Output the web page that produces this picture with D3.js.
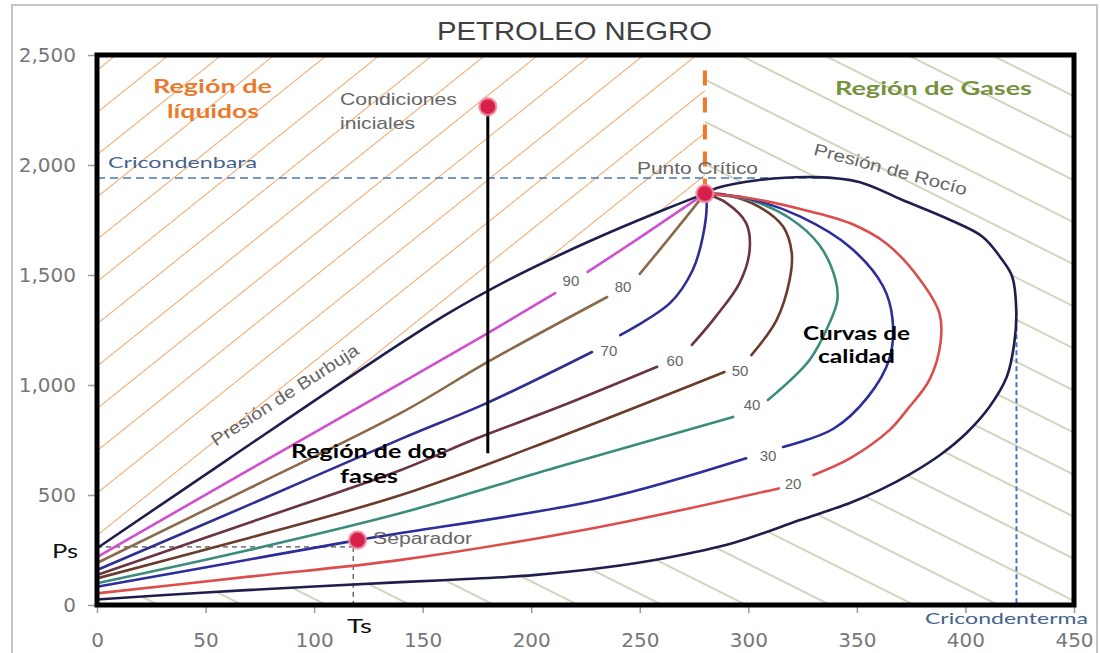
<!DOCTYPE html>
<html><head><meta charset="utf-8">
<script src="https://cdn.jsdelivr.net/npm/d3@7"></script>
<style>body{margin:0;background:#fff;} svg{display:block}</style>
</head><body>
<svg id="c" width="1100" height="653"></svg>
<script>
// ---------------- DATA ----------------
const xTicks = [0, 50, 100, 150, 200, 250, 300, 350, 400, 450];
const yTicks = [0, 500, 1000, 1500, 2000, 2500];
const yTickLabels = ["0", "500", "1,000", "1,500", "2,000", "2,500"];

// Presión de Burbuja (T, P)
const bubbleCurve = [[0,258],[60,660],[120,1060],[160,1315],[190,1480],[215,1600],[240,1710],[262,1800],[280,1870]];
// Presión de Rocío (from critical point around the envelope to T=0)
const dewCurve = [[280,1870],[285.5,1895],[305,1932],[331,1945],[351,1923],[371,1841],[393,1750],[408,1673],[417,1568],[421.6,1491],[423.4,1341],[422.5,1191],[419,1036],[411,900],[400.5,782],[388.3,682],[374.5,595],[360.7,523],[346.8,464],[323.8,386],[293,282],[262,214],[232,168],[201,136],[170,118],[140,104],[100,84],[50,57],[0,25]];

// quality curves (null = gap for label)
const q90 = [[0,218],[70,614],[140,1009],[180,1236],[211,1418], null, [226,1514],[250,1670],[268,1790],[280,1870]];
const q80 = [[0,191],[70,530],[140,873],[180,1105],[235,1400], null, [250,1505],[264,1673],[280,1870]];
const q70 = [[0,159],[70,455],[140,755],[180,920],[228,1150], null, [241,1227],[264,1373],[274.4,1523],[279,1673],[280.8,1827],[280,1870]];
const q60 = [[0,136],[70,374],[140,614],[175,758],[213,901],[258,1083], null, [274,1182],[285,1311],[296,1464],[300.6,1614],[299,1736],[290,1827],[280,1870]];
const q50 = [[0,121],[70,305],[140,500],[213,764],[289,1059], null, [301.4,1136],[313,1295],[319,1477],[320,1600],[316,1720],[305,1810],[290,1864],[280,1870]];
const q40 = [[0,99],[70,250],[140,418],[213,629],[293,855], null, [309,932],[328.2,1114],[337.4,1282],[341,1386],[340.2,1477],[332.7,1636],[319,1759],[300.7,1841],[280,1870]];
const q30 = [[0,83],[60,189],[120,295],[140,327],[232,480],[299,667], null, [316,718],[339,800],[355,945],[365,1120],[366.4,1300],[362,1450],[347,1625],[324,1765],[300,1848],[280,1870]];
const q20 = [[0,53],[70,129],[140,205],[232,356],[314,530], null, [330,591],[347,668],[365,795],[373,886],[383.4,1023],[388.5,1190],[388,1327],[379,1480],[364,1640],[347,1735],[324,1800],[300,1850],[280,1870]];
const qualityCurves = [q90, q80, q70, q60, q50, q40, q30, q20];
const qualityLevels = ["90", "80", "70", "60", "50", "40", "30", "20"];
const qualityLabelPos = [[218.3,1468],[242.3,1441],[235.8,1150],[266.2,1105],[296.2,1059],[301.7,905],[309.1,673],[320.6,545]];

const criticalPoint = [280, 1870];
const initialPoint = [180, 2265];
const separatorPoint = [120, 295];
const initialLineEndP = 690;
const criticalDashTopP = 2430;
const cricondenbarP = 1941, cricondenbarEndT = 333;
const cricondenthermT = 423.5, cricondenthermTopP = 1340;
const Ts = 118, Ps = 264;

// ---------------- STYLE ----------------
const qualityColors = ["#cf4fd0", "#8a6a4a", "#2f2f92", "#6a3440", "#6b3b2b", "#3a8c7c", "#2d2d9c", "#dc4d4d"];
const envelopeColor = "#1f1f4d";
const grayText = "#666666";

// ---------------- CHART ----------------
const svg = d3.select("#c");
const x = d3.scaleLinear().domain([0, 450]).range([97, 1074]);
const y = d3.scaleLinear().domain([0, 2500]).range([605, 55]);

// outer frame
svg.append("rect").attr("x", 12).attr("y", 5).attr("width", 1085).attr("height", 660)
  .attr("fill", "#fff").attr("stroke", "#c4c4c4").attr("stroke-width", 2);

const defs = svg.append("defs");
function hatch(id, angle, spacing, color) {
  const p = defs.append("pattern").attr("id", id).attr("patternUnits", "userSpaceOnUse")
    .attr("width", 40).attr("height", spacing).attr("patternTransform", `rotate(${angle})`);
  p.append("line").attr("x1", -5).attr("x2", 45).attr("y1", spacing / 2).attr("y2", spacing / 2)
    .attr("stroke", color).attr("stroke-width", 1.1);
}
hatch("hOrange", -38.7, 33, "#f2a66a");
hatch("hGreen", 26.6, 37.6, "#a3ab7a");

const line = d3.line().defined(d => d != null).x(d => x(d[0])).y(d => y(d[1]))
  .curve(d3.curveCatmullRom.alpha(0.5));

// hatch regions
const bubbleRev = line(bubbleCurve.slice().reverse());
const orangePath = `M${x(0)},${y(2500)}L${x(criticalPoint[0])},${y(2500)}L${x(criticalPoint[0])},${y(criticalPoint[1])}` +
  bubbleRev.replace(/^M/, "L") + "Z";
svg.append("path").attr("d", orangePath).attr("fill", "url(#hOrange)");

const unionPath = `M${x(0)},${y(2500)}L${x(criticalPoint[0])},${y(2500)}L${x(criticalPoint[0])},${y(criticalPoint[1])}` +
  line(dewCurve).replace(/^M/, "L") + "Z";
const rectPath = `M${x(0)},${y(0)}L${x(450)},${y(0)}L${x(450)},${y(2500)}L${x(0)},${y(2500)}Z`;
svg.append("path").attr("d", rectPath + unionPath).attr("fill", "url(#hGreen)").attr("fill-rule", "evenodd");

// axes
const gx = svg.append("g").attr("transform", `translate(0,${y(0)})`)
  .call(d3.axisBottom(x).tickValues(xTicks).tickSize(8).tickPadding(20));
const gy = svg.append("g").attr("transform", `translate(${x(0)},0)`)
  .call(d3.axisLeft(y).tickValues(yTicks).tickSize(9).tickPadding(12).tickFormat((d, i) => yTickLabels[i]));
[gx, gy].forEach(g => {
  g.select(".domain").remove();
  g.selectAll("line").attr("stroke", "#9a9a9a").attr("stroke-width", 1.5);
  g.selectAll("text").attr("font-family", "DejaVu Sans, sans-serif").attr("font-size", 20).attr("fill", "#777");
});

// dashed reference lines
svg.append("line").attr("x1", x(0)).attr("x2", x(cricondenbarEndT)).attr("y1", y(cricondenbarP)).attr("y2", y(cricondenbarP))
  .attr("stroke", "#4a74c0").attr("stroke-width", 1.6).attr("stroke-dasharray", "8,5");
svg.append("line").attr("x1", x(cricondenthermT)).attr("x2", x(cricondenthermT)).attr("y1", y(cricondenthermTopP)).attr("y2", y(0))
  .attr("stroke", "#4a74c0").attr("stroke-width", 2).attr("stroke-dasharray", "5,3");
svg.append("line").attr("x1", x(0)).attr("x2", x(Ts)).attr("y1", y(Ps)).attr("y2", y(Ps))
  .attr("stroke", "#222").attr("stroke-width", 1).attr("stroke-dasharray", "5,4");
svg.append("line").attr("x1", x(Ts)).attr("x2", x(Ts)).attr("y1", y(Ps)).attr("y2", y(0))
  .attr("stroke", "#222").attr("stroke-width", 1).attr("stroke-dasharray", "5,4");

// quality curves
qualityCurves.forEach((c, i) => {
  svg.append("path").attr("d", line(c)).attr("fill", "none")
    .attr("stroke", qualityColors[i]).attr("stroke-width", 2.6).attr("stroke-linecap", "round");
});
// envelope
[bubbleCurve, dewCurve].forEach(c => {
  svg.append("path").attr("d", line(c)).attr("fill", "none")
    .attr("stroke", envelopeColor).attr("stroke-width", 2.6);
});

// quality labels
qualityLevels.forEach((s, i) => {
  svg.append("text").attr("x", x(qualityLabelPos[i][0])).attr("y", y(qualityLabelPos[i][1]))
    .attr("text-anchor", "middle").attr("dominant-baseline", "middle")
    .attr("font-family", "Liberation Sans, Arial, sans-serif").attr("font-size", 15)
    .attr("fill", grayText).text(s);
});

// orange critical dashed line
svg.append("line").attr("x1", x(criticalPoint[0])).attr("x2", x(criticalPoint[0]))
  .attr("y1", y(criticalDashTopP)).attr("y2", y(criticalPoint[1]))
  .attr("stroke", "#ee7a28").attr("stroke-width", 4).attr("stroke-dasharray", "15,12");

// initial conditions vertical line
svg.append("line").attr("x1", x(initialPoint[0])).attr("x2", x(initialPoint[0]))
  .attr("y1", y(initialPoint[1])).attr("y2", y(initialLineEndP))
  .attr("stroke", "#000").attr("stroke-width", 3);

// points
[initialPoint, criticalPoint, separatorPoint].forEach(p => {
  svg.append("circle").attr("cx", x(p[0])).attr("cy", y(p[1])).attr("r", 8.5)
    .attr("fill", "#d81f4a").attr("stroke", "#f08ca4").attr("stroke-width", 2.5).attr("stroke-opacity", 0.8);
});

// texts
function txt(s, px, py, o) {
  const t = svg.append("text").attr("x", px).attr("y", py).text(s)
    .attr("font-family", o.family || "Liberation Sans, Arial, sans-serif")
    .attr("font-size", o.size).attr("fill", o.fill || grayText)
    .attr("font-weight", o.weight || "normal").attr("text-anchor", o.anchor || "start");
  if (o.len) t.attr("textLength", o.len).attr("lengthAdjust", "spacingAndGlyphs");
  if (o.rot) t.attr("transform", `rotate(${o.rot},${px},${py})`);
  return t;
}
txt("PETROLEO NEGRO", 437, 40, {size: 25, fill: "#404040", len: 275});
txt("Región de", 153, 93, {size: 19, family: "Lato, sans-serif", weight: "bold", fill: "#ec7a2c", len: 119});
txt("líquidos", 167, 118, {size: 19, family: "Lato, sans-serif", weight: "bold", fill: "#ec7a2c", len: 92});
txt("Región de Gases", 835, 95, {size: 19, family: "Lato, sans-serif", weight: "bold", fill: "#76923c", len: 197});
txt("Condiciones", 340, 105, {size: 17, len: 117});
txt("iniciales", 340, 129, {size: 17, len: 75});
txt("Cricondenbara", 108, 168, {size: 16, family: "Lato, sans-serif", fill: "#45628e", len: 149});
txt("Punto Crítico", 637, 174, {size: 17, len: 121});
txt("Presión de Rocío", 889, 175, {size: 17, anchor: "middle", rot: 15, len: 158});
txt("Presión de Burbuja", 288, 400, {size: 17, anchor: "middle", rot: -33, len: 172});
txt("Región de dos", 291, 458, {size: 18, family: "Lato, sans-serif", weight: "bold", fill: "#000", len: 156});
txt("fases", 340, 483, {size: 18, family: "Lato, sans-serif", weight: "bold", fill: "#000", len: 58});
txt("Curvas de", 803, 340, {size: 18, family: "Lato, sans-serif", weight: "bold", fill: "#000", len: 107});
txt("calidad", 818, 363, {size: 18, family: "Lato, sans-serif", weight: "bold", fill: "#000", len: 77});
txt("Separador", 373, 544, {size: 16, len: 99});
txt("Ps", 52, 558, {size: 19, family: "Lato, sans-serif", fill: "#111", len: 26});
txt("Ts", 347, 633, {size: 19, family: "Lato, sans-serif", fill: "#111", len: 25});
txt("Cricondenterma", 925, 624, {size: 15, family: "Lato, sans-serif", fill: "#45628e", len: 163});

// plot frame
svg.append("rect").attr("x", x(0)).attr("y", y(2500)).attr("width", x(450) - x(0)).attr("height", y(0) - y(2500))
  .attr("fill", "none").attr("stroke", "#000").attr("stroke-width", 5);
</script>
</body></html>
